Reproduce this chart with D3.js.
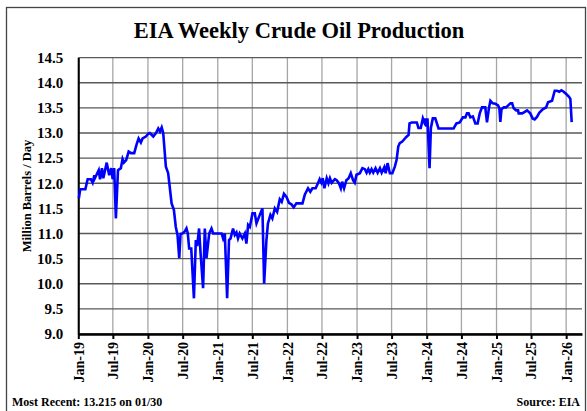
<!DOCTYPE html>
<html>
<head>
<meta charset="utf-8">
<script src="https://cdn.jsdelivr.net/npm/d3@7"></script>
<style>
  body { margin: 0; background: #fff; }
  text { font-family: "Liberation Serif", serif; font-weight: bold; fill: #000; }
</style>
</head>
<body>
<div class="chart"></div>
<script>
// Chart size
var svgWidth = 587;
var svgHeight = 411;

// Weekly crude production, million barrels / day
var dates = [
  "2019-01-04","2019-01-11","2019-02-07","2019-02-19","2019-03-08","2019-03-17","2019-03-26","2019-03-29",
  "2019-04-18","2019-04-25","2019-05-05","2019-05-12","2019-05-30","2019-06-12","2019-06-23","2019-06-30",
  "2019-07-08","2019-07-17","2019-07-28","2019-08-12","2019-08-21","2019-08-28","2019-09-09","2019-09-22",
  "2019-10-04","2019-10-21","2019-11-03","2019-11-13","2019-11-25","2019-12-04","2019-12-21","2020-01-04",
  "2020-01-11","2020-01-29","2020-02-12","2020-02-24","2020-03-04","2020-03-13","2020-03-21","2020-04-04",
  "2020-04-16","2020-05-04","2020-05-16","2020-05-26","2020-06-04","2020-06-13","2020-06-20","2020-06-29",
  "2020-07-12","2020-07-21","2020-07-28","2020-08-04","2020-08-15","2020-08-29","2020-09-08","2020-09-15",
  "2020-09-25","2020-10-03","2020-10-16","2020-10-25","2020-11-03","2020-11-17","2020-11-29","2020-12-08",
  "2021-01-21","2021-01-29","2021-02-07","2021-02-19","2021-03-01","2021-03-09","2021-03-22","2021-03-31",
  "2021-04-09","2021-04-17","2021-04-26","2021-05-10","2021-05-23","2021-05-31","2021-06-09","2021-06-18",
  "2021-07-02","2021-07-14","2021-07-23","2021-08-05","2021-08-23","2021-09-01","2021-09-13","2021-09-21",
  "2021-10-04","2021-10-14","2021-10-27","2021-11-08","2021-11-22","2021-12-02","2021-12-14","2021-12-27",
  "2022-01-09","2022-01-22","2022-02-03","2022-02-17","2022-03-21","2022-04-02","2022-04-19","2022-05-01",
  "2022-05-12","2022-05-29","2022-06-10","2022-06-19","2022-06-28","2022-07-05","2022-07-14","2022-07-26",
  "2022-08-04","2022-08-12","2022-08-21","2022-09-07","2022-09-16","2022-09-28","2022-10-08","2022-10-15",
  "2022-10-25","2022-11-06","2022-11-18","2022-11-29","2022-12-11","2022-12-20","2022-12-29","2023-01-16",
  "2023-01-29","2023-02-11","2023-02-20","2023-03-01","2023-03-09","2023-03-18","2023-03-27","2023-04-08",
  "2023-04-19","2023-05-01","2023-05-10","2023-05-24","2023-05-31","2023-06-10","2023-06-22","2023-07-05",
  "2023-07-18","2023-07-27","2023-08-05","2023-08-13","2023-08-26","2023-09-09","2023-09-16","2023-09-28",
  "2023-10-03","2023-10-15","2023-11-10","2023-11-19","2023-12-01","2023-12-12","2023-12-19","2023-12-24",
  "2023-12-30","2024-01-05","2024-01-16","2024-01-23","2024-02-02","2024-02-15","2024-03-03","2024-05-21",
  "2024-06-05","2024-06-22","2024-07-09","2024-07-22","2024-07-30","2024-08-08","2024-08-17","2024-08-30",
  "2024-09-12","2024-09-24","2024-10-05","2024-10-17","2024-11-03","2024-11-12","2024-11-22","2024-11-30",
  "2024-12-12","2024-12-26","2025-01-09","2025-01-16","2025-01-21","2025-01-27","2025-02-08","2025-02-20",
  "2025-03-03","2025-03-15","2025-03-24","2025-04-01","2025-04-14","2025-04-24","2025-04-27","2025-05-15",
  "2025-05-29","2025-06-10","2025-06-27","2025-07-09","2025-07-20","2025-08-01","2025-08-13","2025-08-31",
  "2025-09-18","2025-09-28","2025-10-19","2025-11-02","2025-11-14","2025-11-26","2025-12-07","2025-12-19",
  "2025-12-31","2026-01-16","2026-01-23","2026-01-30"
];
var production = [
  11.70,11.88,11.88,12.08,12.08,12.01,12.16,12.10,
  12.26,12.08,12.30,12.10,12.41,12.16,12.30,12.08,
  12.30,11.30,12.26,12.30,12.48,12.41,12.46,12.63,
  12.60,12.60,12.78,12.89,12.81,12.89,12.93,12.99,
  13.00,12.93,13.00,13.09,13.03,13.11,13.00,12.33,
  12.20,11.60,11.47,11.13,10.97,10.51,10.99,11.00,
  11.04,11.10,11.00,10.70,10.70,9.71,10.87,10.75,
  11.10,10.60,9.91,11.10,10.51,11.00,11.10,11.00,
  11.00,10.90,11.00,9.71,10.87,10.90,11.10,10.97,
  11.02,10.90,11.00,10.90,11.00,10.80,11.17,11.13,
  11.40,11.40,11.20,11.33,11.50,10.00,10.87,11.20,
  11.37,11.30,11.50,11.43,11.68,11.63,11.79,11.73,
  11.61,11.58,11.52,11.60,11.60,11.77,11.90,11.83,
  11.90,11.90,12.00,12.08,12.01,12.10,11.90,12.10,
  12.00,12.10,12.01,12.08,12.06,12.00,11.90,12.03,
  11.90,12.06,12.10,12.20,12.06,12.01,12.17,12.20,
  12.30,12.28,12.21,12.28,12.21,12.28,12.21,12.30,
  12.21,12.30,12.21,12.32,12.20,12.40,12.20,12.20,
  12.33,12.46,12.73,12.80,12.83,12.89,12.92,12.96,
  13.19,13.21,13.21,13.10,13.10,13.29,13.22,13.29,
  13.13,13.29,12.30,13.10,13.29,13.29,13.09,13.09,
  13.19,13.21,13.31,13.31,13.39,13.39,13.31,13.33,
  13.19,13.19,13.39,13.51,13.51,13.21,13.49,13.64,
  13.59,13.58,13.55,13.49,13.22,13.47,13.51,13.51,
  13.55,13.59,13.59,13.49,13.45,13.45,13.39,13.39,
  13.42,13.45,13.39,13.29,13.27,13.32,13.40,13.47,
  13.51,13.61,13.64,13.84,13.84,13.82,13.85,13.82,
  13.78,13.72,13.68,13.215
];
var yTicks = [9.0, 9.5, 10.0, 10.5, 11.0, 11.5, 12.0, 12.5, 13.0, 13.5, 14.0, 14.5];

var title = "EIA Weekly Crude Oil Production";
var yTitle = "Million Barrels / Day";
var footLeft = "Most Recent: 13.215 on 01/30";
var footRight = "Source: EIA";

// Plot area
var plot = { left: 78.3, right: 582, top: 57.6, bottom: 334 };

var parse = d3.timeParse("%Y-%m-%d");
var data = dates.map((d, i) => ({ date: parse(d), value: production[i] }));

var svg = d3.select(".chart")
  .append("svg")
  .attr("width", svgWidth)
  .attr("height", svgHeight);

// Outer frame
svg.append("rect")
  .attr("x", 6.5).attr("y", 7.5)
  .attr("width", 579).attr("height", 410)
  .attr("fill", "none")
  .attr("stroke", "#444")
  .attr("stroke-width", 1.3);

// Scales
var xScale = d3.scaleTime()
  .domain([parse("2019-01-01"), parse("2026-03-25")])
  .range([plot.left, plot.right]);
var yScale = d3.scaleLinear()
  .domain([9, 14.5])
  .range([plot.bottom, plot.top]);

var xTicks = d3.timeMonth.every(6).range(parse("2019-01-01"), parse("2026-01-02"));

// Vertical gridlines
svg.append("g")
  .selectAll("line")
  .data(xTicks)
  .enter()
  .append("line")
  .attr("x1", d => xScale(d)).attr("x2", d => xScale(d))
  .attr("y1", plot.top).attr("y2", plot.bottom)
  .attr("stroke", "#a6a6a6")
  .attr("stroke-width", 1.3);

// Horizontal gridlines
svg.append("g")
  .selectAll("line")
  .data(yTicks)
  .enter()
  .append("line")
  .attr("x1", plot.left).attr("x2", plot.right)
  .attr("y1", d => yScale(d)).attr("y2", d => yScale(d))
  .attr("stroke", "#595959")
  .attr("stroke-width", 1.3);

// Y axis
var yAxis = d3.axisLeft(yScale)
  .tickValues(yTicks)
  .tickFormat(d3.format(".1f"))
  .tickSize(0)
  .tickPadding(15);
var yG = svg.append("g")
  .attr("transform", `translate(${plot.left}, 0)`)
  .call(yAxis);
yG.select(".domain").attr("stroke", "#000").attr("stroke-width", 2);
yG.selectAll("text")
  .style("font-family", "'Liberation Serif', serif")
  .style("font-weight", "bold")
  .style("font-size", "15px");

// X axis
var xAxis = d3.axisBottom(xScale)
  .tickValues(xTicks)
  .tickFormat(d3.timeFormat("%b-%y"))
  .tickSize(5)
  .tickSizeOuter(0);
var xG = svg.append("g")
  .attr("transform", `translate(0, ${plot.bottom})`)
  .call(xAxis);
xG.select(".domain").attr("stroke", "#000").attr("stroke-width", 2.5);
xG.selectAll(".tick line").attr("stroke", "#000").attr("stroke-width", 2);
xG.selectAll("text")
  .style("font-family", "'Liberation Serif', serif")
  .style("font-weight", "bold")
  .style("font-size", "14px")
  .attr("transform", "rotate(-90)")
  .attr("text-anchor", "end")
  .attr("x", -8)
  .attr("y", 0)
  .attr("dy", "0.35em");

// Production line
var line = d3.line()
  .x(d => xScale(d.date))
  .y(d => yScale(d.value));

svg.append("path")
  .datum(data)
  .attr("d", line)
  .attr("fill", "none")
  .attr("stroke", "#0000ff")
  .attr("stroke-width", 2.6);

// Titles
svg.append("text")
  .attr("x", 299)
  .attr("y", 38)
  .attr("text-anchor", "middle")
  .style("font-size", "22.5px")
  .text(title);

svg.append("text")
  .attr("transform", "rotate(-90)")
  .attr("x", -196)
  .attr("y", 31)
  .attr("text-anchor", "middle")
  .style("font-size", "12.5px")
  .text(yTitle);

svg.append("text")
  .attr("x", 12)
  .attr("y", 406)
  .style("font-size", "12px")
  .text(footLeft);

svg.append("text")
  .attr("x", 580)
  .attr("y", 406)
  .attr("text-anchor", "end")
  .style("font-size", "12px")
  .text(footRight);
</script>
</body>
</html>
